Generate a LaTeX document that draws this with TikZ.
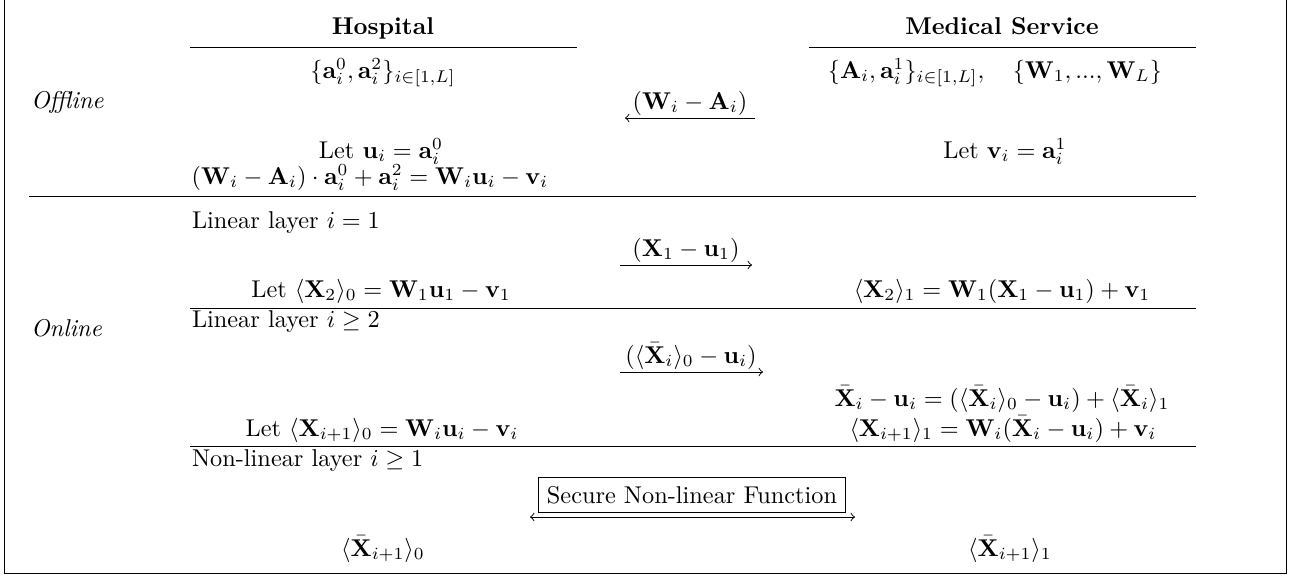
\documentclass[tikz,border=0pt]{standalone}
\usepackage{amsmath,amssymb}
\begin{document}
\begin{tikzpicture}[x=0.4115pt,y=-0.4115pt,
  txt/.style={inner sep=0pt,outer sep=0pt,anchor=base},
  ltxt/.style={inner sep=0pt,outer sep=0pt,anchor=base west},
  lbl/.style={inner sep=0pt,outer sep=0pt,anchor=base},
  rulel/.style={line width=0.4pt},
  msg/.style={->,line width=0.4pt},
  dmsg/.style={<->,line width=0.4pt},
  sbox/.style={draw,line width=0.4pt,inner xsep=3.5pt,inner ysep=3.6pt,outer sep=0pt}]
\useasboundingbox (0,0) rectangle (1303,576);
% frame
\draw[rulel] (4,0) -- (4,573) -- (1286,573) -- (1286,0);
% headers
\node[txt] (hosp) at (383,34) {\textbf{Hospital}};
\node[txt] (med) at (1002,34) {\textbf{Medical Service}};
\draw[rulel] (190,47) -- (577,47);
\draw[rulel] (809,47) -- (1196,47);
% offline
\node[txt] (hset) at (383,78) {$\{\mathbf{a}_i^0,\mathbf{a}_i^2\}_{i\in[1,L]}$};
\node[txt] (mset) at (995,78) {$\{\mathbf{A}_i,\mathbf{a}_i^1\}_{i\in[1,L]},\quad\{\mathbf{W}_1,...,\mathbf{W}_L\}$};
\node[ltxt] (off) at (31,108) {\textit{Offline}};
\coordinate (a1s) at (755,118);
\coordinate (a1e) at (625,118);
\draw[msg] (a1s) -- (a1e);
\node[lbl] (a1l) at (690,109) {$(\mathbf{W}_i-\mathbf{A}_i)$};
\node[txt] (hu) at (381,158) {Let $\mathbf{u}_i=\mathbf{a}_i^0$};
\node[txt] (hw) at (370,184) {$(\mathbf{W}_i-\mathbf{A}_i)\cdot\mathbf{a}_i^0+\mathbf{a}_i^2=\mathbf{W}_i\mathbf{u}_i-\mathbf{v}_i$};
\node[txt] (mv) at (1005,158) {Let $\mathbf{v}_i=\mathbf{a}_i^1$};
\draw[rulel] (29,196) -- (1196,196);
% online linear 1
\node[ltxt] (l1) at (192,228) {Linear layer $i=1$};
\coordinate (a2s) at (620,265);
\coordinate (a2e) at (752,265);
\draw[msg] (a2s) -- (a2e);
\node[lbl] (a2l) at (686,256) {$(\mathbf{X}_1-\mathbf{u}_1)$};
\node[txt] (hx2) at (381,297) {Let $\langle\mathbf{X}_2\rangle_0=\mathbf{W}_1\mathbf{u}_1-\mathbf{v}_1$};
\node[txt] (mx2) at (1002,297) {$\langle\mathbf{X}_2\rangle_1=\mathbf{W}_1(\mathbf{X}_1-\mathbf{u}_1)+\mathbf{v}_1$};
\draw[rulel] (190,308) -- (1196,308);
% online linear >=2
\node[ltxt] (l2) at (192,327) {Linear layer $i\geq 2$};
\node[ltxt] (on) at (31,336) {\textit{Online}};
\coordinate (a3s) at (620,372);
\coordinate (a3e) at (763,372);
\draw[msg] (a3s) -- (a3e);
\node[lbl] (a3l) at (691,363) {$(\langle\bar{\mathbf{X}}_i\rangle_0-\mathbf{u}_i)$};
\node[txt] (mxb) at (1002,406) {$\bar{\mathbf{X}}_i-\mathbf{u}_i=(\langle\bar{\mathbf{X}}_i\rangle_0-\mathbf{u}_i)+\langle\bar{\mathbf{X}}_i\rangle_1$};
\node[txt] (hxi) at (382,436) {Let $\langle\mathbf{X}_{i+1}\rangle_0=\mathbf{W}_i\mathbf{u}_i-\mathbf{v}_i$};
\node[txt] (mxi) at (1003,436) {$\langle\mathbf{X}_{i+1}\rangle_1=\mathbf{W}_i(\bar{\mathbf{X}}_i-\mathbf{u}_i)+\mathbf{v}_i$};
\draw[rulel] (190,446) -- (1196,446);
% non-linear
\node[ltxt] (nl) at (192,466) {Non-linear layer $i\geq 1$};
\node[sbox] (snf) at (692,495) {Secure Non-linear Function};
\coordinate (a4s) at (530,517);
\coordinate (a4e) at (855,517);
\draw[dmsg] (a4s) -- (a4e);
\node[txt] (hout) at (383,556) {$\langle\bar{\mathbf{X}}_{i+1}\rangle_0$};
\node[txt] (mout) at (1010,556) {$\langle\bar{\mathbf{X}}_{i+1}\rangle_1$};
\end{tikzpicture}
\end{document}
